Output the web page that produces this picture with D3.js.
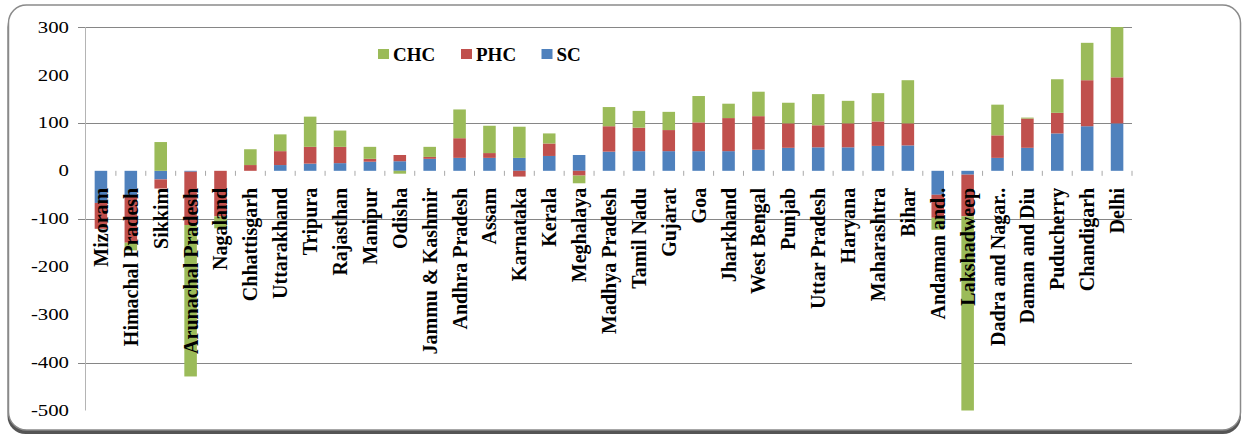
<!DOCTYPE html>
<html>
<head>
<meta charset="utf-8">
<script src="https://cdn.jsdelivr.net/npm/d3@7"></script>
<style>
  html, body { margin: 0; padding: 0; background: #ffffff; }
  svg { display: block; }
  text { font-family: "Liberation Serif", "Times New Roman", serif; fill: #000; }
</style>
</head>
<body>
<svg id="chart" width="1243" height="436"></svg>
<script>
// States / UTs, ordered as plotted
const categories = [
  "Mizoram", "Himachal Pradesh", "Sikkim", "Arunachal Pradesh", "Nagaland",
  "Chhattisgarh", "Uttarakhand", "Tripura", "Rajasthan", "Manipur", "Odisha",
  "Jammu & Kashmir", "Andhra Pradesh", "Assam", "Karnataka", "Kerala",
  "Meghalaya", "Madhya Pradesh", "Tamil Nadu", "Gujarat", "Goa", "Jharkhand",
  "West Bengal", "Punjab", "Uttar Pradesh", "Haryana", "Maharashtra", "Bihar",
  "Andaman and..", "Lakshadweep", "Dadra and Nagar..", "Daman and Diu",
  "Puducherry", "Chandigarh", "Delhi"
];

// Series values (stacked: SC, then PHC, then CHC)
const scValues = [
  -67, -52, -18, -2, 0,
  0, 12, 15, 16, 19, 20,
  25, 27, 27, 27, 31,
  33, 40, 41, 41, 41, 41,
  44, 48, 49, 49, 52, 53,
  -50, -8, 27, 48,
  78, 93, 99
];
const phcValues = [
  -54, -98, -19, -111, -95,
  12, 29, 35, 34, 6, 13,
  4, 41, 10, -12, 26,
  -10, 53, 49, 44, 60, 69,
  70, 51, 46, 50, 51, 46,
  -48, -87, 47, 61,
  43, 96, 96
];
const chcValues = [
  0, -16, 60, -316, -25,
  33, 35, 63, 34, 25, -6,
  21, 60, 57, 65, 21,
  -16, 40, 35, 38, 55, 30,
  51, 43, 65, 47, 59, 90,
  -25, -405, 64, 2,
  70, 78, 105
];

const seriesNames = ["SC", "PHC", "CHC"];
const seriesColors = ["#4F81BD", "#C0504D", "#9BBB59"];
const legendOrder = ["CHC", "PHC", "SC"];

const yTickValues = [300, 200, 100, 0, -100, -200, -300, -400, -500];
const gridValues = [300, 100, -100, -400];

const svg = d3.select("#chart");

// Chart frame: shadow along the bottom plus rounded border
svg.append("rect")
  .attr("x", 7.5).attr("y", 9).attr("width", 1233.5).attr("height", 425)
  .attr("rx", 18).attr("ry", 18)
  .attr("fill", "#555555");
svg.append("rect")
  .attr("x", 8.5).attr("y", 5).attr("width", 1232).attr("height", 425)
  .attr("rx", 18).attr("ry", 18)
  .attr("fill", "#ffffff").attr("stroke", "#8a8a8a").attr("stroke-width", 1.5);

const plot = { left: 86, right: 1132, top: 27, bottom: 410.5 };

const x = d3.scaleBand()
  .domain(categories)
  .range([plot.left, plot.right])
  .paddingInner(0.58)
  .paddingOuter(0.29);

const y = d3.scaleLinear()
  .domain([-500, 300])
  .range([plot.bottom, plot.top]);

// Rows for stacking
const rows = categories.map((c, i) => ({
  category: c, SC: scValues[i], PHC: phcValues[i], CHC: chcValues[i]
}));

const stacked = d3.stack()
  .keys(seriesNames)
  .offset(d3.stackOffsetDiverging)(rows);

// Gridlines
svg.append("g").selectAll("line")
  .data(gridValues)
  .join("line")
  .attr("x1", plot.left - 8).attr("x2", plot.right)
  .attr("y1", d => Math.round(y(d)) + 0.5).attr("y2", d => Math.round(y(d)) + 0.5)
  .attr("stroke", "#868686").attr("stroke-width", 1);

// Y axis line
svg.append("line")
  .attr("x1", plot.left - 0.5).attr("x2", plot.left - 0.5)
  .attr("y1", y(300)).attr("y2", y(-500))
  .attr("stroke", "#b4b4b4").attr("stroke-width", 1);

// Y tick labels (wide serif digits)
svg.append("g").selectAll("text")
  .data(yTickValues)
  .join("text")
  .attr("transform", d => `translate(${plot.left - 17},${y(d)}) scale(1.3,1)`)
  .attr("text-anchor", "end")
  .attr("dy", "0.35em")
  .style("font-size", "16px")
  .text(d => d);

// Category ticks along the zero line
const step = x.step();
svg.append("g").selectAll("line")
  .data(d3.range(1, categories.length + 1))
  .join("line")
  .attr("x1", i => plot.left + i * step).attr("x2", i => plot.left + i * step)
  .attr("y1", y(0)).attr("y2", y(0) + 5)
  .attr("stroke", "#a8a8a8").attr("stroke-width", 1);

// Stacked bars
svg.append("g").selectAll("g")
  .data(stacked)
  .join("g")
  .attr("fill", (d, i) => seriesColors[i])
  .selectAll("rect")
  .data(d => d)
  .join("rect")
  .attr("x", d => x(d.data.category))
  .attr("width", x.bandwidth())
  .attr("y", d => y(Math.max(d[0], d[1])))
  .attr("height", d => Math.abs(y(d[0]) - y(d[1])));

// Category labels, rotated, drawn over the bars
svg.append("g").selectAll("text")
  .data(categories)
  .join("text")
  .attr("transform", d => `translate(${x(d) + x.bandwidth() / 2},${y(0) + 17}) rotate(-90)`)
  .attr("text-anchor", "end")
  .attr("dy", "0.35em")
  .style("font-size", "20px")
  .style("font-weight", "bold")
  .text(d => d);

// Legend
const legendX = [378, 461, 541.5];
const legend = svg.append("g").selectAll("g")
  .data(legendOrder)
  .join("g")
  .attr("transform", (d, i) => `translate(${legendX[i]},49)`);
legend.append("rect")
  .attr("width", 11).attr("height", 10)
  .attr("fill", d => seriesColors[seriesNames.indexOf(d)]);
legend.append("text")
  .attr("x", 15).attr("y", 11.5)
  .style("font-size", "19px")
  .style("font-weight", "bold")
  .text(d => d);
</script>
</body>
</html>
